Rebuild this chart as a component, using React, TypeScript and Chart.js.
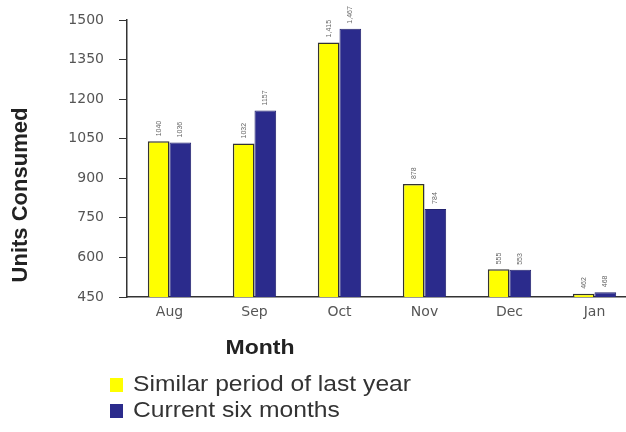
import React, { useEffect, useRef } from "react";
import { Chart, registerables } from "chart.js";

Chart.register(...registerables);

const months = ["Aug", "Sep", "Oct", "Nov", "Dec", "Jan"];
const lastYear = [1040, 1032, 1415, 878, 555, 462];
const current = [1036, 1157, 1467, 784, 553, 468];
const lastYearLabels = ["1040", "1032", "1,415", "878", "555", "462"];
const currentLabels = ["1036", "1157", "1,467", "784", "553", "468"];
const seriesNames = ["Similar period of last year", "Current six months"];
const yTitle = "Units Consumed";
const xTitle = "Month";

const YELLOW = "#ffff00";
const NAVY = "#2b2b8c";
const ARIAL = "Arial, 'Liberation Sans', sans-serif";
const WIDE = "'DejaVu Sans', Verdana, sans-serif";

const decorPlugin = {
  id: "decor",
  afterDatasetsDraw(chart: any) {
    const ctx = chart.ctx;
    const labelSets = [lastYearLabels, currentLabels];
    ctx.save();
    ctx.font = "7px " + ARIAL;
    ctx.fillStyle = "#666";
    ctx.textAlign = "left";
    ctx.textBaseline = "middle";
    chart.data.datasets.forEach((_: any, di: number) => {
      const meta = chart.getDatasetMeta(di);
      meta.data.forEach((bar: any, i: number) => {
        ctx.save();
        ctx.translate(bar.x, bar.y - 5);
        ctx.rotate(-Math.PI / 2);
        ctx.fillText(labelSets[di][i], 0, 0);
        ctx.restore();
      });
    });
    ctx.restore();
  },
  afterDraw(chart: any) {
    const ctx = chart.ctx;
    ctx.save();
    // y title
    ctx.fillStyle = "#222";
    ctx.font = "bold 22px " + ARIAL;
    ctx.textAlign = "center";
    ctx.textBaseline = "middle";
    ctx.save();
    ctx.translate(21, 195);
    ctx.rotate(-Math.PI / 2);
    ctx.fillText(yTitle, 0, 0);
    ctx.restore();
    // x title
    ctx.font = "bold 20px " + ARIAL;
    ctx.save();
    ctx.translate(260, 348);
    ctx.scale(1.15, 1);
    ctx.fillText(xTitle, 0, 0);
    ctx.restore();
    // legend
    const colors = [YELLOW, NAVY];
    const ys = [385, 411];
    ctx.font = "22px " + ARIAL;
    ctx.textAlign = "left";
    seriesNames.forEach((name, i) => {
      ctx.fillStyle = colors[i];
      ctx.fillRect(110, ys[i] - 7, 13, 14);
      ctx.fillStyle = "#333";
      ctx.save();
      ctx.translate(133, ys[i]);
      ctx.scale(1.12, 1);
      ctx.fillText(name, 0, 0);
      ctx.restore();
    });
    ctx.restore();
  },
};

export default function App() {
  const ref = useRef<HTMLCanvasElement>(null);
  useEffect(() => {
    document.body.style.margin = "0";
    document.body.style.overflow = "hidden";
    const chart = new Chart(ref.current!, {
      type: "bar",
      data: {
        labels: months,
        datasets: [
          {
            label: seriesNames[0],
            data: lastYear,
            backgroundColor: YELLOW,
            borderColor: "#333",
            borderWidth: 1.5,
          },
          {
            label: seriesNames[1],
            data: current,
            backgroundColor: NAVY,
            borderColor: "#22226e",
            borderWidth: 1,
          },
        ],
      },
      options: {
        responsive: false,
        animation: false,
        devicePixelRatio: 1,
        layout: { padding: { top: 20, right: 13, left: 0, bottom: 0 } },
        plugins: { legend: { display: false }, tooltip: { enabled: false } },
        datasets: { bar: { categoryPercentage: 0.51, barPercentage: 1.0 } },
        scales: {
          x: {
            grid: { display: false, drawTicks: false },
            border: { display: true, color: "#333", width: 1.5 },
            ticks: {
              color: "#555",
              padding: 7,
              font: { family: WIDE, size: 14 },
            },
            afterFit: (s: any) => {
              s.height = 135;
              s.paddingLeft = 0;
              s.paddingRight = 0;
            },
          },
          y: {
            min: 450,
            max: 1500,
            grid: {
              display: true,
              drawOnChartArea: false,
              drawTicks: true,
              tickLength: 8,
              color: "#333",
            },
            border: { display: true, color: "#333", width: 1.5 },
            ticks: {
              stepSize: 150,
              color: "#555",
              padding: 15,
              font: { family: WIDE, size: 14 },
              callback: (v: any) => String(v),
            },
            afterFit: (s: any) => {
              s.width = 127;
              s.paddingTop = 0;
              s.paddingBottom = 0;
            },
          },
        },
      },
      plugins: [decorPlugin],
    });
    return () => chart.destroy();
  }, []);
  return <canvas ref={ref} width={650} height={432} style={{ display: "block" }} />;
}
